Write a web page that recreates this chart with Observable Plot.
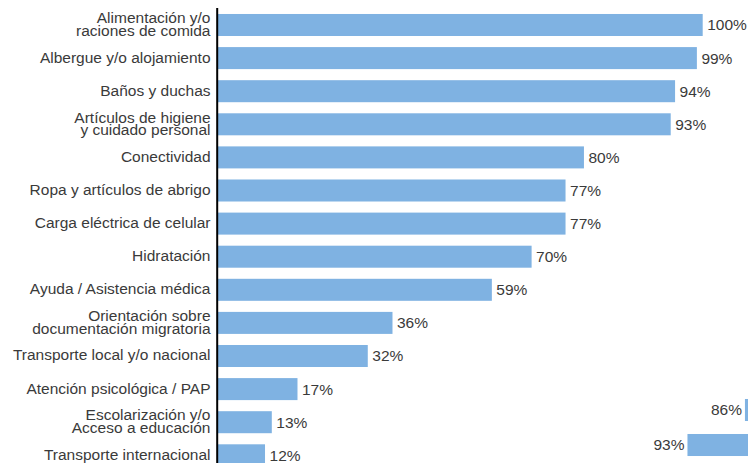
<!DOCTYPE html>
<html>
<head>
<meta charset="utf-8">
<script src="https://cdn.jsdelivr.net/npm/d3@7"></script>
<script src="https://cdn.jsdelivr.net/npm/@observablehq/plot@0.6"></script>
<style>
  html, body { margin: 0; padding: 0; background: #fff; overflow: hidden; }
  #wrap { position: relative; width: 748px; height: 463px; overflow: hidden; }
  #wrap svg { position: absolute; left: 0; top: 0; overflow: hidden; }
</style>
</head>
<body>
<div id="wrap"></div>
<script>
const categories = [
  "Alimentación y/o\nraciones de comida",
  "Albergue y/o alojamiento",
  "Baños y duchas",
  "Artículos de higiene\ny cuidado personal",
  "Conectividad",
  "Ropa y artículos de abrigo",
  "Carga eléctrica de celular",
  "Hidratación",
  "Ayuda / Asistencia médica",
  "Orientación sobre\ndocumentación migratoria",
  "Transporte local y/o nacional",
  "Atención psicológica / PAP",
  "Escolarización y/o\nAcceso a educación",
  "Transporte internacional"
];
// bar lengths as drawn in the picture (percent of the 100% bar)
const barValues = [100, 98.8, 94.3, 93.4, 75.5, 71.7, 71.7, 64.7, 56.5, 36, 30.9, 16.4, 11.1, 9.7];
// value labels as printed
const valueLabels = ["100%", "99%", "94%", "93%", "80%", "77%", "77%", "70%", "59%", "36%", "32%", "17%", "13%", "12%"];

// partially visible neighbouring bars at the bottom right
const sideKeys = ["a", "b"];
const sideValues = [86, 93];
const sideLabels = ["86%", "93%"];

const rows = categories.map((c, i) => ({cat: c, value: barValues[i], label: valueLabels[i]}));
const sideRows = sideKeys.map((k, i) => ({key: k, value: sideValues[i], label: sideLabels[i]}));

const barColor = "#7fb2e2";
const font = "'Liberation Sans', Arial, sans-serif";

const main = Plot.plot({
  width: 748,
  height: 463,
  marginLeft: 218,
  marginRight: 45.3,
  marginTop: 8,
  marginBottom: 0,
  style: {fontFamily: font, fontSize: "15.5px", background: "transparent"},
  x: {domain: [0, 100], axis: null},
  y: {domain: categories, range: [2.9, 477.4], padding: 0.335, round: false, axis: null},
  marks: [
    Plot.barX(rows, {x: "value", y: "cat", fill: barColor}),
    Plot.text(rows, {x: 0, y: "cat", text: "cat", textAnchor: "end", dx: -8, lineHeight: 0.8, fontSize: 15.5, fill: "#3a3a3a"}),
    Plot.text(rows, {x: "value", y: "cat", text: "label", textAnchor: "start", dx: 4, fontSize: 15.5, fill: "#3a3a3a"}),
    Plot.ruleX([0], {stroke: "#000", strokeWidth: 2, dx: -1.3})
  ]
});

const side = Plot.plot({
  width: 748,
  height: 463,
  margin: 0,
  style: {fontFamily: font, fontSize: "15.5px", background: "transparent"},
  x: {domain: [0, 100], range: [1451, 630], axis: null},
  y: {domain: sideKeys, range: [386, 469], padding: 0.371, round: false, axis: null},
  marks: [
    Plot.barX(sideRows, {x: "value", y: "key", fill: barColor}),
    Plot.text(sideRows, {x: "value", y: "key", text: "label", textAnchor: "end", dx: -3.5, fontSize: 15.5, fill: "#3a3a3a"})
  ]
});

const wrap = document.getElementById("wrap");
wrap.appendChild(main);
wrap.appendChild(side);
</script>
</body>
</html>
